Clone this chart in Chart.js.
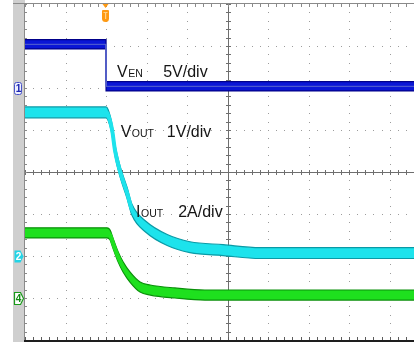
<!DOCTYPE html>
<html>
<head>
<meta charset="utf-8">
<script src="https://cdn.jsdelivr.net/npm/chart.js@4.4.1/dist/chart.umd.min.js"></script>
<style>
  html, body { margin: 0; padding: 0; background: #fff; }
  #wrap { width: 414px; height: 342px; position: relative; }
</style>
</head>
<body>
<div id="wrap"><canvas id="scope" width="414" height="342"></canvas></div>
<script>
// Screen graticule: 8 vertical divisions, 9.6 horizontal divisions shown
const X_DIVS = 9.6;
const Y_DIVS = 8;
const TRIGGER_DIV = 2.0;

// CH1 – enable voltage (V) against time (div)
const venTime  = [0, 2.0, 2.0, 9.6];
const venVolts = [5.2, 5.2, 0.2, 0.2];

// CH2 – output voltage (V) against time (div)
const voutTime  = [0, 2.0, 2.05, 2.15, 2.22, 2.35, 2.52, 2.64, 2.99, 3.51, 4.07, 4.89, 5.8, 9.6];
const voutVolts = [3.42, 3.42, 3.36, 3.0, 2.52, 2.0, 1.5, 1.1, 0.69, 0.38, 0.21, 0.14, 0.07, 0.07];

// CH4 – output current (A) against time (div)
const ioutTime = [0, 2.02, 2.1, 2.17, 2.3, 2.42, 2.59, 2.84, 3.09, 3.7, 4.44, 9.6];
const ioutAmps = [3.1, 3.1, 3.0, 2.62, 1.95, 1.48, 1.0, 0.52, 0.38, 0.24, 0.14, 0.14];

// Channel settings: units per division, ground level (div from bottom), trace noise half-width (div)
const channelPerDiv  = [5, 1, 2];
const channelGround  = [6, 2, 1];
const channelNoise   = [0.11, 0.13, 0.12];
const channelNumbers = ['1', '2', '4'];
const channelNames   = [['V', 'EN'], ['V', 'OUT'], ['I', 'OUT']];
const channelUnits   = ['5V/div', '1V/div', '2A/div'];

// Annotation anchor points (div)
const labelX = [2.27, 2.36, 2.74];
const labelY = [6.26, 4.83, 2.93];
const unitX  = [3.41, 3.50, 3.78];

const fillColors = ['#0a16d6', '#1de3ec', '#1ee01e'];
const edgeColors = ['#00008a', '#0a9aa6', '#0a900a'];
const lineColors = ['#5a66cc', '#1de3ec', '#1ee01e'];
const lineWidths = [1, 4, 4];

const series = [
  { time: venTime,  values: venVolts, smooth: false },
  { time: voutTime, values: voutVolts, smooth: true },
  { time: ioutTime, values: ioutAmps, smooth: true }
];

const datasets = [];
series.forEach((s, k) => {
  const centre = s.time.map((t, i) => ({ x: t, y: channelGround[k] + s.values[i] / channelPerDiv[k] }));
  const upper = centre.map(p => ({ x: p.x, y: p.y + channelNoise[k] }));
  const lower = centre.map(p => ({ x: p.x, y: p.y - channelNoise[k] }));
  const common = s.smooth ? { cubicInterpolationMode: 'monotone' } : { tension: 0 };
  datasets.push({ data: centre, borderColor: lineColors[k], borderWidth: lineWidths[k], fill: false, ...common });
  datasets.push({ data: upper, borderColor: edgeColors[k], borderWidth: 1.2, fill: false, ...common });
  datasets.push({ data: lower, borderColor: edgeColors[k], borderWidth: 1.2, backgroundColor: fillColors[k], fill: '-1', ...common });
});

const scopePlugin = {
  id: 'scopeScreen',
  beforeDraw(chart) {
    const { ctx, chartArea: a } = chart;
    ctx.save();
    ctx.fillStyle = '#ffffff';
    ctx.fillRect(0, 0, chart.width, chart.height);
    ctx.fillStyle = '#cfcfcf';
    ctx.fillRect(a.left - 12, 0, 12, chart.height);
    ctx.restore();
  },
  beforeDatasetsDraw(chart) {
    const { ctx, chartArea: a, scales: { x, y } } = chart;
    ctx.save();
    // dotted division lines
    ctx.fillStyle = '#9c9c9c';
    for (let i = 1; i < X_DIVS; i++) {
      if (i === 5) continue;
      const px = Math.round(x.getPixelForValue(i));
      for (let m = 0; m <= Y_DIVS * 5; m++) {
        ctx.fillRect(px, Math.round(y.getPixelForValue(m / 5)), 1, 1);
      }
    }
    for (let j = 1; j < Y_DIVS; j++) {
      if (j === 4) continue;
      const py = Math.round(y.getPixelForValue(j));
      for (let m = 0; m <= X_DIVS * 5; m++) {
        ctx.fillRect(Math.round(x.getPixelForValue(m / 5)), py, 1, 1);
      }
    }
    // centre cross with minor ticks
    ctx.fillStyle = '#6e6e6e';
    const cx = Math.round(x.getPixelForValue(5));
    const cy = Math.round(y.getPixelForValue(4));
    ctx.fillRect(a.left, cy, a.right - a.left, 1);
    ctx.fillRect(cx, a.top, 1, a.bottom - a.top);
    for (let m = 0; m <= X_DIVS * 5; m++) {
      const px = Math.round(x.getPixelForValue(m / 5));
      ctx.fillRect(px, cy - 2, 1, 5);
    }
    for (let m = 0; m <= Y_DIVS * 5; m++) {
      const py = Math.round(y.getPixelForValue(m / 5));
      ctx.fillRect(cx - 2, py, 5, 1);
    }
    // frame: top, bottom, left with minor ticks
    ctx.fillStyle = '#8a8a8a';
    ctx.fillRect(a.left - 12, a.top - 1, a.right - a.left + 12, 1);
    ctx.fillRect(a.left - 1, a.top, 1, a.bottom - a.top);
    for (let m = 0; m <= X_DIVS * 5; m++) {
      const px = Math.round(x.getPixelForValue(m / 5));
      ctx.fillRect(px, a.top, 1, 3);
    }
    for (let m = 0; m <= Y_DIVS * 5; m++) {
      const py = Math.round(y.getPixelForValue(m / 5));
      ctx.fillRect(a.left, py, 2, 1);
    }
    ctx.fillStyle = '#5c5c5c';
    for (let m = 0; m <= X_DIVS * 5; m++) {
      const px = Math.round(x.getPixelForValue(m / 5));
      ctx.fillRect(px, a.bottom - 3, 1, 3);
    }
    ctx.fillStyle = '#1e1e1e';
    ctx.fillRect(a.left - 1, a.bottom, a.right - a.left + 1, 2);
    ctx.restore();
  },
  afterDatasetsDraw(chart) {
    const { ctx, chartArea: a, scales: { x, y } } = chart;
    ctx.save();
    // trace annotations
    ctx.fillStyle = '#151515';
    ctx.textBaseline = 'alphabetic';
    channelNames.forEach((name, k) => {
      const px = x.getPixelForValue(labelX[k]);
      const py = y.getPixelForValue(labelY[k]);
      ctx.font = '16px "Liberation Sans", Arial, sans-serif';
      ctx.fillText(name[0], px, py);
      const w = ctx.measureText(name[0]).width;
      ctx.font = '10.5px "Liberation Sans", Arial, sans-serif';
      ctx.fillText(name[1], px + w + 0.5, py);
      ctx.font = '16px "Liberation Sans", Arial, sans-serif';
      ctx.fillText(channelUnits[k], x.getPixelForValue(unitX[k]), py);
    });

    // channel ground markers in the side strip
    const mx = a.left - 11;
    channelNumbers.forEach((num, k) => {
      const cy = Math.round(y.getPixelForValue(channelGround[k])) + 0.5;
      ctx.beginPath();
      if (k === 0) {
        ctx.roundRect(mx + 0.5, cy - 6, 7, 12, 2);
        ctx.fillStyle = '#eef0ff';
        ctx.fill();
        ctx.strokeStyle = '#4a54c8';
        ctx.lineWidth = 1;
        ctx.stroke();
        ctx.fillStyle = '#1a24b0';
      } else {
        ctx.moveTo(mx + 0.5, cy - 6);
        ctx.lineTo(mx + 6.5, cy - 6);
        ctx.lineTo(mx + 9.5, cy);
        ctx.lineTo(mx + 6.5, cy + 6);
        ctx.lineTo(mx + 0.5, cy + 6);
        ctx.closePath();
        if (k === 1) {
          ctx.fillStyle = '#22d4e6';
          ctx.fill();
          ctx.fillStyle = '#ffffff';
        } else {
          ctx.fillStyle = '#ffffff';
          ctx.fill();
          ctx.strokeStyle = '#1a9a1a';
          ctx.lineWidth = 1.2;
          ctx.stroke();
          ctx.fillStyle = '#128a12';
        }
      }
      ctx.font = 'bold 10px "Liberation Sans", Arial, sans-serif';
      ctx.textAlign = 'center';
      ctx.textBaseline = 'middle';
      ctx.fillText(num, mx + 4.5, cy + 0.5);
      ctx.textAlign = 'left';
      ctx.textBaseline = 'alphabetic';
    });

    // trigger position marker
    const tx = Math.round(x.getPixelForValue(TRIGGER_DIV)) - 0.5;
    ctx.fillStyle = '#ff9a12';
    ctx.beginPath();
    ctx.moveTo(tx - 3, a.top);
    ctx.lineTo(tx + 3, a.top);
    ctx.lineTo(tx, a.top + 4);
    ctx.closePath();
    ctx.fill();
    ctx.beginPath();
    ctx.roundRect(tx - 3.5, a.top + 6, 7, 12, [1, 1, 3.5, 3.5]);
    ctx.fill();
    ctx.fillStyle = '#ffd28a';
    ctx.fillRect(tx - 2, a.top + 8, 4, 1);
    ctx.fillRect(tx - 0.5, a.top + 8, 1.2, 7);
    ctx.restore();
  }
};

new Chart(document.getElementById('scope'), {
  type: 'line',
  data: { datasets },
  options: {
    responsive: false,
    animation: false,
    devicePixelRatio: 1,
    layout: { padding: { left: 25, top: 4, right: 0, bottom: 2 } },
    scales: {
      x: { type: 'linear', min: 0, max: X_DIVS, display: false },
      y: { type: 'linear', min: 0, max: Y_DIVS, display: false }
    },
    elements: { point: { radius: 0 } },
    plugins: { legend: { display: false }, tooltip: { enabled: false } }
  },
  plugins: [scopePlugin]
});
</script>
</body>
</html>
